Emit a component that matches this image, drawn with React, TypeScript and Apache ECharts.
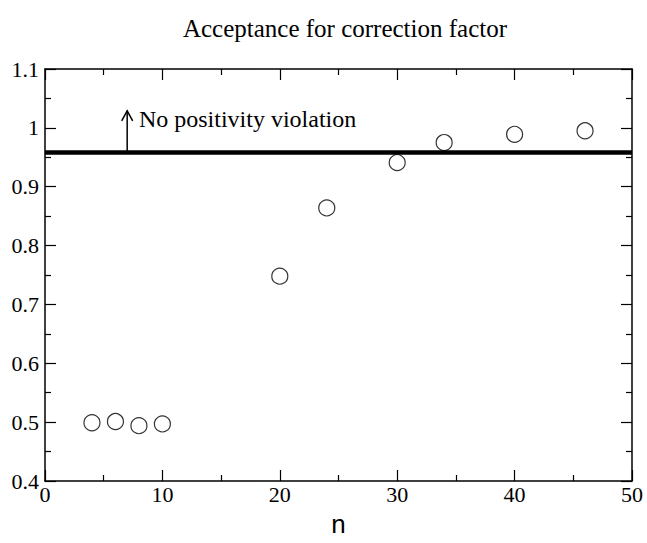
import React, { useEffect, useRef } from "react";
import * as echarts from "echarts";

const nValues = [4, 6, 8, 10, 20, 24, 30, 34, 40, 46];
const acceptance = [0.499, 0.501, 0.494, 0.497, 0.748, 0.864, 0.941, 0.975, 0.989, 0.995];
const thresholdValue = 0.958;
const arrowX = 7;
const arrowTop = 1.029;
const labelX = 8;
const labelY = 1.015;
const annotationText = "No positivity violation";
const titleText = "Acceptance for correction factor";
const xName = "n";

const SERIF = "'Liberation Serif', 'Times New Roman', serif";
const SANS = "'Liberation Sans', Arial, sans-serif";

export default function App() {
  const ref = useRef<HTMLDivElement>(null);
  useEffect(() => {
    if (!ref.current) return;
    const chart = echarts.init(ref.current, null, { renderer: "svg" });
    const axisCommon = {
      type: "value" as const,
      axisLine: { show: true, onZero: false, lineStyle: { color: "#000", width: 1.5 } },
      axisTick: { show: true, inside: true, length: 11, lineStyle: { color: "#000", width: 1.2 } },
      minorTick: { show: true, splitNumber: 2, length: 6, lineStyle: { color: "#000", width: 1.2 } },
      splitLine: { show: false },
      minorSplitLine: { show: false },
    };
    const xBase = { ...axisCommon, min: 0, max: 50, interval: 10 };
    const yBase = { ...axisCommon, min: 0.4, max: 1.1, interval: 0.1 };
    chart.setOption({
      animation: false,
      backgroundColor: "#fff",
      title: {
        text: titleText,
        left: 340,
        textAlign: "center",
        top: 11,
        textStyle: { fontFamily: SERIF, fontSize: 25, fontWeight: "normal", color: "#000" },
      },
      grid: { left: 45, right: 15, top: 69, bottom: 62 },
      xAxis: [
        {
          ...xBase,
          position: "bottom",
          axisLabel: { fontFamily: SERIF, fontSize: 22, color: "#000", margin: 2 },
          name: xName,
          nameLocation: "middle",
          nameGap: 30,
          nameTextStyle: { fontFamily: SANS, fontSize: 26, color: "#000" },
        },
        { ...xBase, position: "top", axisLabel: { show: false } },
      ],
      yAxis: [
        {
          ...yBase,
          position: "left",
          axisLabel: { fontFamily: SERIF, fontSize: 22, color: "#000", margin: 6 },
        },
        { ...yBase, position: "right", axisLabel: { show: false } },
      ],
      series: [
        {
          type: "line",
          data: [
            [0, thresholdValue],
            [50, thresholdValue],
          ],
          symbol: "none",
          lineStyle: { color: "#000", width: 4.5 },
          z: 2,
        },
        {
          type: "custom",
          data: [[arrowX, thresholdValue, arrowTop, labelX, labelY]],
          z: 3,
          renderItem: (params: any, api: any) => {
            const x = api.value(0);
            const p0 = api.coord([x, api.value(1)]);
            const p1 = api.coord([x, api.value(2)]);
            const pl = api.coord([api.value(3), api.value(4)]);
            return {
              type: "group",
              children: [
                {
                  type: "line",
                  shape: { x1: p0[0], y1: p0[1], x2: p1[0], y2: p1[1] },
                  style: { stroke: "#000", lineWidth: 1.5 },
                },
                {
                  type: "polyline",
                  shape: {
                    points: [
                      [p1[0] - 5.5, p1[1] + 10],
                      [p1[0], p1[1]],
                      [p1[0] + 5.5, p1[1] + 10],
                    ],
                  },
                  style: { stroke: "#000", lineWidth: 1.5, fill: "none" },
                },
                {
                  type: "text",
                  x: pl[0],
                  y: pl[1],
                  style: {
                    text: annotationText,
                    fontFamily: SERIF,
                    fontSize: 24,
                    fill: "#000",
                    textAlign: "left",
                    textVerticalAlign: "middle",
                  },
                },
              ],
            };
          },
        },
        {
          type: "scatter",
          data: nValues.map((n, i) => [n, acceptance[i]]),
          symbol: "circle",
          symbolSize: 16,
          itemStyle: { color: "rgba(0,0,0,0)", borderColor: "#000", borderWidth: 1.2 },
          z: 4,
        },
      ],
    });
    return () => chart.dispose();
  }, []);
  return (
    <div
      ref={ref}
      style={{ position: "absolute", left: 0, top: 0, width: 647, height: 543 }}
    />
  );
}
